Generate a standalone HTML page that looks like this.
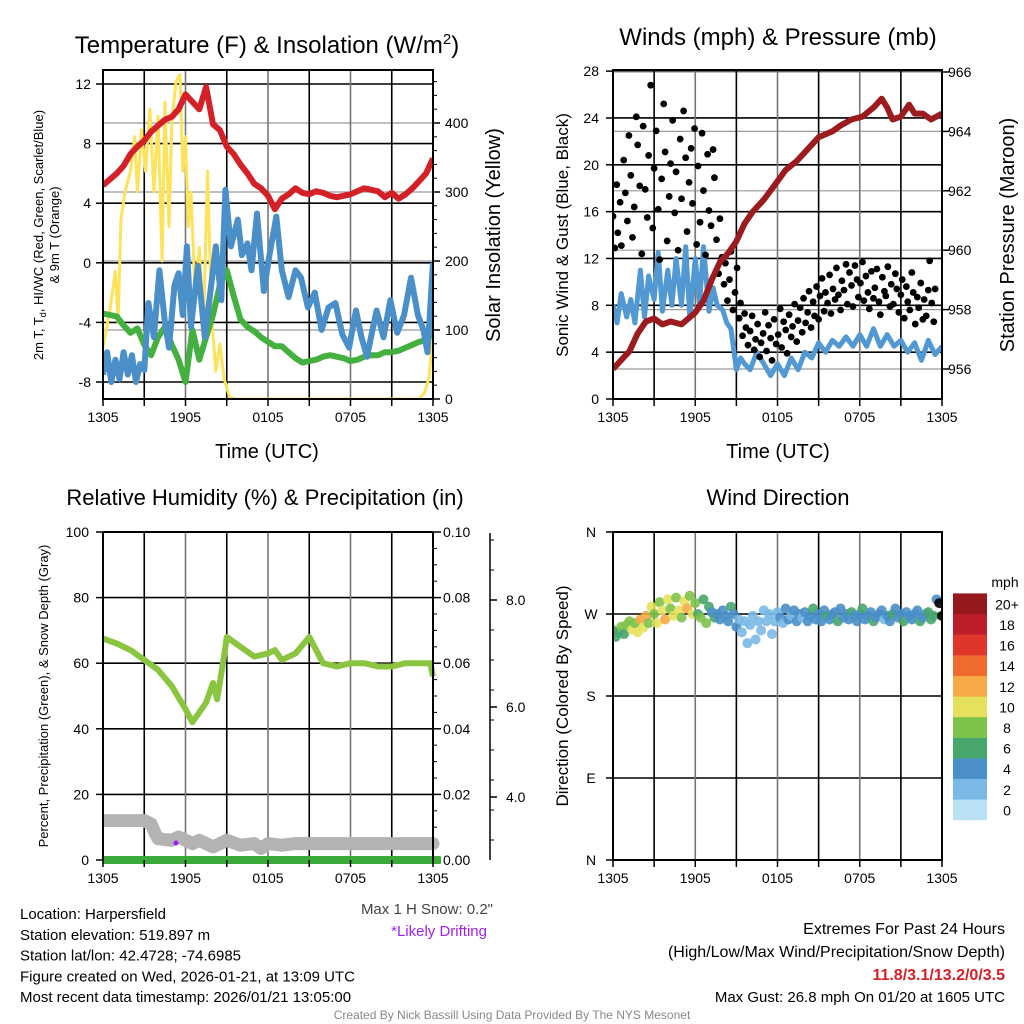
<!DOCTYPE html>
<html><head><meta charset="utf-8"><style>
body{margin:0;background:#fff}
svg{display:block;font-family:"Liberation Sans",Arial,sans-serif}
</style></head><body>
<svg id="s" width="1024" height="1024" viewBox="0 0 1024 1024">
<g id="g"></g>
</svg>
<script>
// ---------- DATA ----------
const xTickLabels=["1305","1905","0105","0705","1305"];
// Panel 1: temperature
const tempTimes=[0,.5,1,1.5,2,2.5,3,3.5,4,4.5,5,5.5,6,6.5,7,7.5,8,8.5,9,9.5,10,10.5,11,11.5,12,12.5,13,13.5,14,14.5,15,15.5,16,16.5,17,17.5,18,18.5,19,19.5,20,20.5,21,21.5,22,22.5,23,23.5,24];
const tempVals=[5.2,5.6,6.0,6.5,7.3,7.8,8.2,8.8,9.2,9.6,9.8,10.3,11.3,10.8,10.3,11.8,9.3,8.9,7.8,7.3,6.6,6.0,5.3,5.0,4.5,3.6,4.3,4.6,5.0,4.7,4.6,4.8,4.7,4.5,4.4,4.5,4.6,4.8,5.0,4.9,4.8,4.4,4.7,4.3,4.6,5.0,5.5,6.0,7.0];
const greenVals=[-3.4,-3.5,-3.6,-4.2,-4.7,-4.4,-5.5,-6.2,-5.0,-4.3,-5.5,-6.5,-8.0,-4.5,-6.5,-5.0,-3.5,-1.5,-0.5,-2.2,-3.8,-4.3,-4.6,-5.0,-5.3,-5.6,-5.6,-6.0,-6.4,-6.7,-6.6,-6.5,-6.3,-6.2,-6.3,-6.4,-6.6,-6.5,-6.3,-6.2,-6.2,-6.0,-6.0,-5.9,-5.7,-5.5,-5.3,-5.2,-4.7];
const wcTimes=[0,0.3,0.6,0.9,1.2,1.5,1.8,2.1,2.4,2.7,3.0,3.3,3.7,4.1,4.5,4.8,5.2,5.5,5.8,6.1,6.4,6.9,7.4,7.8,8.2,8.6,8.9,9.3,9.8,10.1,10.5,10.8,11.2,11.7,12.1,12.6,13.0,13.5,14.0,14.4,14.9,15.4,15.9,16.4,16.9,17.4,17.9,18.4,18.8,19.2,19.6,19.9,20.4,20.9,21.4,21.9,22.4,22.9,23.3,23.6,24];
const wcVals=[-7.5,-6,-8,-6.5,-7.8,-6,-7.5,-6.2,-8,-6.8,-7.2,-2.7,-5,-0.5,-4,-5.7,-1.5,-0.7,-3.5,1.1,-4.3,-0.2,-5,-2,1.1,-2.5,4.9,1.1,2.9,0.5,1.3,-0.5,3.3,-1.9,0.5,3.1,-0.5,-2.3,-0.5,-1,-3,-2,-4.5,-3,-2.7,-4.8,-5.7,-3.2,-5,-6.3,-4.5,-3.2,-5,-2.5,-4.7,-3.5,-1,-3.5,-4.5,-6,0];
const solarTimes=[0,0.5,0.9,1.1,1.3,1.6,2.0,2.3,2.5,2.8,3.1,3.4,3.7,4.0,4.3,4.5,4.8,5.0,5.3,5.6,5.8,6.0,6.2,6.4,6.7,7.0,7.3,7.6,7.9,8.2,8.5,8.8,9.2,9.6,23.0,23.4,23.7,24];
const solarVals=[75,130,185,110,260,300,330,380,300,390,330,420,300,410,200,430,250,400,460,470,330,380,250,300,150,220,100,330,120,40,80,30,3,0,0,10,30,90];
const tempTicks=[12,8,4,0,-4,-8];
const solarTicks=[0,100,200,300,400];
// Panel 2: winds
const windTimes=[0,0.3,0.6,1,1.3,1.6,2,2.3,2.6,3,3.3,3.6,4,4.3,4.6,5,5.3,5.6,6,6.3,6.6,7,7.3,7.6,8,8.3,8.6,9,9.3,9.6,10,10.5,11,11.5,12,12.5,13,13.5,14,14.5,15,15.5,16,16.5,17,17.5,18,18.5,19,19.5,20,20.5,21,21.5,22,22.5,23,23.5,24];
const windVals=[8,6.5,9,7,8.5,6.5,11,7,10.5,8.5,12.5,7.5,11,8,12,8,13,7,12,8,13,7.5,9.5,8,7.6,6.5,6,2.5,3.5,3,2.5,4,3,2,3,2,3.5,2.5,4,3.5,4.8,4,5,4.5,5.3,4.5,5.5,4.5,6,4.5,5.5,4.5,5,4,4.8,3.3,5,3.8,4.5];
const gustTimes=[0,0.13,0.27,0.35,0.52,0.61,0.78,0.9,1.05,1.16,1.3,1.42,1.55,1.7,1.8,1.95,2.1,2.2,2.35,2.5,2.6,2.75,2.9,3.0,3.15,3.3,3.4,3.55,3.7,3.8,3.95,4.1,4.2,4.35,4.5,4.6,4.75,4.9,5.0,5.15,5.3,5.4,5.55,5.7,5.8,5.95,6.1,6.2,6.35,6.5,6.6,6.75,6.9,7.0,7.15,7.3,7.4,7.55,7.7,7.8,7.95,8.1,8.2,8.35,8.5,8.6,8.75,8.9,9.05,9.2,9.3,9.45,9.6,9.7,9.85,10.0,10.15,10.3,10.4,10.55,10.7,10.8,10.95,11.1,11.2,11.35,11.5,11.6,11.75,11.9,12.05,12.2,12.3,12.45,12.6,12.7,12.85,13.0,13.1,13.25,13.4,13.5,13.65,13.8,13.9,14.05,14.2,14.3,14.45,14.6,14.7,14.85,15.0,15.1,15.25,15.4,15.5,15.65,15.8,15.9,16.05,16.2,16.3,16.45,16.6,16.7,16.85,17.0,17.1,17.25,17.4,17.5,17.65,17.8,17.9,18.05,18.2,18.3,18.45,18.6,18.7,18.85,19.0,19.1,19.25,19.4,19.5,19.65,19.8,19.9,20.05,20.2,20.3,20.45,20.6,20.7,20.85,21.0,21.1,21.25,21.4,21.5,21.65,21.8,21.9,22.05,22.2,22.3,22.45,22.6,22.7,22.85,23.0,23.1,23.25,23.4,23.5,23.65,23.8,23.9,24];
const gustVals=[15.6,12.9,18.3,14.2,16.8,13.1,20.4,17.6,15.2,22.5,19.1,13.8,16.4,24.1,21.7,18.2,12.4,23.3,17.9,15.5,20.8,26.8,14.6,19.7,22.9,16.2,11.9,18.8,25.2,21.1,13.5,17.3,20.1,23.8,15.9,19.4,12.7,22.2,17.1,24.6,20.6,14.3,18.5,21.4,16.7,23.1,13.2,19.9,15.1,22.7,17.8,12.3,20.9,16.1,14.8,21.3,18.9,13.6,10.7,15.4,12.1,9.8,11.6,8.4,10.2,12.6,7.6,9.1,11.2,6.9,8.2,5.4,7.3,6.1,4.6,5.8,7.1,4.2,5.1,6.4,3.6,4.8,5.6,7.4,4.1,6.3,5.2,3.3,6.8,4.7,5.5,7.7,4.4,6.6,5.9,3.9,7.2,5.3,6.2,8.1,4.9,6.7,7.8,5.7,8.6,6.5,7.4,9.2,6.1,8.3,7.1,9.6,6.8,8.8,10.3,7.5,9.1,8.2,10.6,7.3,9.4,8.5,11.2,8.9,7.6,10.1,9.3,11.5,8.1,10.8,9.7,7.9,11.4,10.2,8.7,9.9,11.7,8.4,10.5,9.1,7.7,10.9,8.6,9.5,11.1,8.3,7.2,10.4,9.2,8.8,11.3,7.9,9.8,8.1,10.7,9.4,7.4,8.9,10.2,6.9,9.6,8.3,7.6,10.8,9.1,6.4,8.7,7.8,9.9,6.8,8.5,7.1,9.3,11.8,8.2,6.6,9.4];
const pressTimes=[0,0.6,1.2,1.8,2.4,3,3.6,4.2,5,5.5,6,6.6,7.2,7.8,8.4,9,9.6,10.2,11,11.8,12.6,13.4,14.2,15,16,16.6,17.4,18.2,19,19.6,20,20.4,21,21.6,22,22.6,23.2,24];
const pressVals=[956,956.3,956.6,957.2,957.6,957.7,957.5,957.6,957.5,957.7,957.9,958.3,959,959.6,959.9,960.3,960.9,961.3,961.7,962.2,962.7,963,963.4,963.8,964,964.2,964.4,964.5,964.8,965.1,964.8,964.4,964.5,964.9,964.6,964.6,964.4,964.6];
const windTicks=[0,4,8,12,16,20,24,28];
const pressTicks=[956,958,960,962,964,966];
// Panel 3: humidity
const rhTimes=[0,1,2,3,4,5,6,6.5,7,7.5,8,8.3,8.8,9,10,11,12,12.5,13,14,15,16,17,18,19,20,21,22,23,23.8,24];
const rhVals=[67.5,66,64,61,58,53,46,42,45,48,54,49,62,68,65,62,63,64,61,63,68,60,59,60,60,59,59,60,60,60,56];
const snowTimes=[0,1,2,3,3.5,3.8,4,5,5.5,6,6.5,7,7.5,8,8.5,9,10,11,11.5,12,13,14,15,16,17,18,19,20,21,22,23,24];
const snowVals=[12,12,12,12,11,8,6.5,6,7,6,5,6,5,4,5,6,4.5,5,3.5,5,4.5,5,5,5,5,5,5,5,5,5,5,5];
const rhTicks=[0,20,40,60,80,100];
const precipTicks=["0.00","0.02","0.04","0.06","0.08","0.10"];
const snowAxisLabels=["4.0","6.0","8.0"];
// Panel 4: direction
const dirTimes=[0,0.2,0.4,0.6,0.8,1,1.2,1.4,1.6,1.8,2,2.2,2.4,2.6,2.8,3,3.2,3.4,3.6,3.8,4,4.2,4.4,4.6,4.8,5,5.2,5.4,5.6,5.8,6,6.2,6.4,6.6,6.8,7,7.2,7.4,7.6,7.8,8,8.2,8.4,8.6,8.8,9,9.2,9.4,9.6,9.8,10,10.2,10.4,10.6,10.8,11,11.2,11.4,11.6,11.8,12,12.2,12.4,12.6,12.8,13,13.2,13.4,13.6,13.8,14,14.2,14.4,14.6,14.8,15,15.2,15.4,15.6,15.8,16,16.2,16.4,16.6,16.8,17,17.2,17.4,17.6,17.8,18,18.2,18.4,18.6,18.8,19,19.2,19.4,19.6,19.8,20,20.2,20.4,20.6,20.8,21,21.2,21.4,21.6,21.8,22,22.2,22.4,22.6,22.8,23,23.2,23.4,23.6,23.8,24];
const dirVals=[252,245,250,256,248,258,262,253,260,250,264,255,268,260,278,270,260,283,274,264,286,276,268,288,274,266,284,276,290,270,282,270,266,286,260,278,272,266,270,264,274,268,262,278,270,256,264,250,262,238,258,268,242,262,252,274,262,270,248,262,272,266,260,276,264,268,274,262,270,266,272,262,268,276,264,270,262,274,268,264,270,272,262,276,266,270,264,272,268,262,270,276,264,268,272,262,266,270,274,264,268,262,270,276,266,270,262,272,268,264,270,274,262,266,270,272,264,268,286,282,268];
const dirSpeeds=[6,7,6,8,7,9,8,10,9,11,12,10,12,9,11,8,10,9,11,12,10,8,11,9,10,8,10,12,9,11,8,7,9,6,8,6,5,6,5,5,4,5,4,6,5,4,3,3,2.5,3,2.5,3,2,3.5,2.5,3,2.5,3,2.5,3,3,4,3,4,4.5,3,4,5,4,3.5,4,5,4,6,4,4.5,5,4,6,4.5,5,4,6,4.5,5,4,5,6,4,5,4.5,6,5,4,5,6,4,5,4.5,3,5,4,6,5,4,5,6,4.5,5,4,5,4.5,6,4,5,6,6,7,5];
const dirTicks=["N","E","S","W","N"];
const speedBins=["0","2","4","6","8","10","12","14","16","18","20+"];
const speedColors=["#b9e2f7","#7ab9e5","#4a8fc8","#46a66b","#7dc24a","#e6e15c","#f6a947","#ef6b2c","#e0352b","#bd1e29","#95181d"];

// ---------- DRAW ----------
const NS="http://www.w3.org/2000/svg";
const G=document.getElementById('g');
function el(tag,attrs,parent){const e=document.createElementNS(NS,tag);for(const k in attrs)e.setAttribute(k,attrs[k]);(parent||G).appendChild(e);return e;}
function txt(x,y,s,size,anchor,extra){const e=el('text',Object.assign({x:x,y:y,'font-size':size,'text-anchor':anchor||'middle',fill:'#000'},extra||{}));e.textContent=s;return e;}
function linePath(ts,vs,sx,sy){return ts.map((t,i)=>(i?'L':'M')+sx(t).toFixed(1)+','+sy(vs[i]).toFixed(1)).join(' ');}

function frame(x0,x1,y0,y1,name){
  const r=el('rect',{x:x0,y:y0,width:x1-x0,height:y1-y0,fill:'none',stroke:'#000','stroke-width':2});
  
  
}
function vgrid(x0,x1,y0,y1){
  for(let i=1;i<8;i++){const x=x0+(x1-x0)*i/8;
    el('line',{x1:x,x2:x,y1:y0,y2:y1,stroke:i%2?'#000':'#777','stroke-width':1.6});}
}
function xticks(x0,x1,y1,name){
  const g=el('g',{});
  
  
  for(let i=0;i<=8;i++){const x=x0+(x1-x0)*i/8;el('line',{x1:x,x2:x,y1:y1,y2:y1+7,stroke:'#000','stroke-width':1.5},g);}
  xTickLabels.forEach((s,i)=>{txt(x0+(x1-x0)*i/4,y1+23,s,14,'middle');});
}

// ===== Panel 1 =====
(function(){
  const x0=103,x1=433,y0=70,y1=399;
  const sx=t=>x0+(x1-x0)*t/24;
  const sy=v=>84-(v-12)*14.9;
  const sr=v=>399-v*0.69;
  const t=txt(267,53,'Temperature (F) & Insolation (W/m',24);
  const sup=el('tspan',{dy:-9,'font-size':15},t);sup.textContent='2';
  const cl=el('tspan',{dy:9},t);cl.textContent=')';
  
  tempTicks.forEach(v=>{el('line',{x1:x0,x2:x1,y1:sy(v),y2:sy(v),stroke:'#000','stroke-width':1.6});
    el('line',{x1:x0-7,x2:x0,y1:sy(v),y2:sy(v),stroke:'#000','stroke-width':1.5});
    txt(x0-12,sy(v)+5,String(v),14,'end');});
  solarTicks.forEach(v=>{el('line',{x1:x0,x2:x1,y1:sr(v),y2:sr(v),stroke:'#999','stroke-width':1.2});
    el('line',{x1:x1,x2:x1+7,y1:sr(v),y2:sr(v),stroke:'#000','stroke-width':1.5});
    txt(x1+12,sr(v)+5,String(v),14,'start');});
  for(let v=0;v<=460;v+=20){el('line',{x1:x1,x2:x1+4,y1:sr(v),y2:sr(v),stroke:'#000','stroke-width':1});}
  vgrid(x0,x1,y0,y1);
  const clip=el('clipPath',{id:'c1'});el('rect',{x:x0,y:y0,width:x1-x0,height:y1-y0},clip);
  const gg=el('g',{'clip-path':'url(#c1)'});
  let p=el('path',{d:linePath(solarTimes,solarVals,sx,sr),fill:'none',stroke:'#fde25a','stroke-width':3,'stroke-linejoin':'round'},gg);
  
  p=el('path',{d:linePath(tempTimes,greenVals,sx,sy),fill:'none',stroke:'#44b040','stroke-width':6,'stroke-linejoin':'round'},gg);
  
  p=el('path',{d:linePath(wcTimes,wcVals,sx,sy),fill:'none',stroke:'#4a8fc8','stroke-width':6,'stroke-linejoin':'round'},gg);
  
  p=el('path',{d:linePath(tempTimes,tempVals,sx,sy),fill:'none',stroke:'#d42027','stroke-width':6,'stroke-linejoin':'round'},gg);
  
  frame(x0,x1,y0,y1,'temperature-plot-frame');
  xticks(x0,x1,y1,'temperature-x-axis');
  const xl=txt(267,458,'Time (UTC)',20);
  const yl=el('text',{transform:'translate(43,235) rotate(-90)','font-size':13,'text-anchor':'middle'});
  
  yl.innerHTML='2m T, T<tspan font-size="9" dy="3">d</tspan><tspan dy="-3">, HI/WC (Red, Green, Scarlet/Blue)</tspan>';
  const yl2=txt(0,0,'& 9m T (Orange)',13,'middle',{transform:'translate(59,235) rotate(-90)'});
  
  const yr=txt(0,0,'Solar Insolation (Yellow)',20,'middle',{transform:'translate(500,235) rotate(-90)'});
  
})();

// ===== Panel 2 =====
(function(){
  const x0=613,x1=942,y0=70,y1=399;
  const sx=t=>x0+(x1-x0)*t/24;
  const sy=v=>399-v*11.71;
  const sp=v=>369-(v-956)*29.7;
  const t=txt(778,45,'Winds (mph) & Pressure (mb)',24);
  windTicks.forEach(v=>{el('line',{x1:x0,x2:x1,y1:sy(v),y2:sy(v),stroke:'#000','stroke-width':1.6});
    el('line',{x1:x0-7,x2:x0,y1:sy(v),y2:sy(v),stroke:'#000','stroke-width':1.5});
    txt(x0-14,sy(v)+5,String(v),14,'end');});
  pressTicks.forEach(v=>{el('line',{x1:x0,x2:x1,y1:sp(v),y2:sp(v),stroke:'#999','stroke-width':1.2});
    el('line',{x1:x1,x2:x1+7,y1:sp(v),y2:sp(v),stroke:'#000','stroke-width':1.5});
    txt(x1+6,sp(v)+5,String(v),14,'start');});
  vgrid(x0,x1,y0,y1);
  const clip=el('clipPath',{id:'c2'});el('rect',{x:x0,y:y0,width:x1-x0,height:y1-y0},clip);
  const gg=el('g',{'clip-path':'url(#c2)'});
  let p=el('path',{d:linePath(windTimes,windVals,sx,sy),fill:'none',stroke:'#5299d3','stroke-width':5,'stroke-linejoin':'round'},gg);
  
  gustVals.forEach((v,i)=>{const c=el('circle',{cx:sx(gustTimes[i]),cy:sy(v),r:3.4,fill:'#000'},gg);
    
    });
  p=el('path',{d:linePath(pressTimes,pressVals,sx,sp),fill:'none',stroke:'#9b1b1e','stroke-width':6,'stroke-linejoin':'round'},gg);
  
  frame(x0,x1,y0,y1,'winds-plot-frame');
  xticks(x0,x1,y1,'winds-x-axis');
  txt(778,458,'Time (UTC)',20);
  txt(0,0,'Sonic Wind & Gust (Blue, Black)',17,'middle',{transform:'translate(568,235) rotate(-90)'});
  txt(0,0,'Station Pressure (Maroon)',20,'middle',{transform:'translate(1014,235) rotate(-90)'});
})();

// ===== Panel 3 =====
(function(){
  const x0=103,x1=433,y0=532,y1=860;
  const sx=t=>x0+(x1-x0)*t/24;
  const sy=v=>860-v*3.28;
  const t=txt(265,505,'Relative Humidity (%) & Precipitation (in)',22);
  rhTicks.forEach((v,i)=>{el('line',{x1:x0,x2:x1,y1:sy(v),y2:sy(v),stroke:'#000','stroke-width':1.6});
    el('line',{x1:x0-7,x2:x0,y1:sy(v),y2:sy(v),stroke:'#000','stroke-width':1.5});
    txt(x0-14,sy(v)+5,String(v),14,'end');
    el('line',{x1:x1,x2:x1+8,y1:sy(v),y2:sy(v),stroke:'#000','stroke-width':1.5});
    txt(x1+10,sy(v)+5,precipTicks[i],14,'start');});
  for(let v=0;v<=100;v+=5){el('line',{x1:x1,x2:x1+4,y1:sy(v),y2:sy(v),stroke:'#000','stroke-width':1});}
  vgrid(x0,x1,y0,y1);
  const clip=el('clipPath',{id:'c3'});el('rect',{x:x0,y:y0-2,width:x1-x0+8,height:y1-y0+12},clip);
  const gg=el('g',{'clip-path':'url(#c3)'});
  let p=el('path',{d:linePath(snowTimes,snowVals,sx,sy),fill:'none',stroke:'#b3b3b3','stroke-width':13,'stroke-linejoin':'round','stroke-linecap':'round'},gg);
  
  p=el('path',{d:linePath(rhTimes,rhVals,sx,sy),fill:'none',stroke:'#8bc53f','stroke-width':6,'stroke-linejoin':'round'},gg);
  
  p=el('line',{x1:x0,x2:x1+6,y1:sy(0),y2:sy(0),stroke:'#3aab3a','stroke-width':8,'stroke-linecap':'round'},gg);
  
  el('circle',{cx:176,cy:843,r:2.5,fill:'#a020f0'});
  el('line',{x1:x0,x2:x0,y1:y0,y2:y1,stroke:'#000','stroke-width':2});
  el('line',{x1:x1,x2:x1,y1:y0,y2:y1,stroke:'#000','stroke-width':2});
  el('line',{x1:x0,x2:x1,y1:y0,y2:y0,stroke:'#000','stroke-width':2});
  xticks(x0,x1,y1,'humidity-x-axis');
  const ax=490;
  el('line',{x1:ax,x2:ax,y1:533,y2:860,stroke:'#000','stroke-width':1.5});
  const snowTickY=[797,707,600];
  for(let y=540;y<=855;y+=30){el('line',{x1:ax,x2:ax+4,y1:y,y2:y,stroke:'#000','stroke-width':1});}
  snowAxisLabels.forEach((s,i)=>{el('line',{x1:ax,x2:ax+7,y1:snowTickY[i],y2:snowTickY[i],stroke:'#000','stroke-width':1.5});
    txt(ax+16,snowTickY[i]+5,s,14,'start');});
  txt(0,0,'Percent, Precipitation (Green), & Snow Depth (Gray)',13,'middle',{transform:'translate(48,696) rotate(-90)'});
})();

// ===== Panel 4 =====
(function(){
  const x0=613,x1=942,y0=532,y1=860;
  const sx=t=>x0+(x1-x0)*t/24;
  const sy=d=>860-d*328/360;
  const binColor=s=>speedColors[Math.min(10,Math.floor(s/2))];
  const t=txt(778,505,'Wind Direction',22);
  dirTicks.forEach((s,i)=>{const y=sy(i*90);
    el('line',{x1:x0,x2:x1,y1:y,y2:y,stroke:'#000','stroke-width':1.6});
    el('line',{x1:x0-7,x2:x0,y1:y,y2:y,stroke:'#000','stroke-width':1.5});
    txt(x0-22,y+5,s,14,'middle');});
  vgrid(x0,x1,y0,y1);
  const clip=el('clipPath',{id:'c4'});el('rect',{x:x0,y:y0,width:x1-x0,height:y1-y0},clip);
  const gg=el('g',{'clip-path':'url(#c4)'});
  dirVals.forEach((d,i)=>{const c=el('circle',{cx:sx(dirTimes[i]),cy:sy(d),r:5,fill:binColor(dirSpeeds[i]),'fill-opacity':0.9},gg);
    
    });
  frame(x0,x1,y0,y1,'wind-direction-plot-frame');
  xticks(x0,x1,y1,'wind-direction-x-axis');
  txt(0,0,'Direction (Colored By Speed)',17,'middle',{transform:'translate(568,696) rotate(-90)'});
  const cb=el('g',{});
  
  
  txt(1005,587,'mph',14,'middle',{});
  speedBins.forEach((s,i)=>{const y=820-(i+1)*20.6;
    el('rect',{x:953,y:y,width:34,height:20.8,fill:speedColors[i]},cb);
    txt(1007,y+16,s,14,'middle');});
})();

// ===== Footer texts =====
const info=["Location: Harpersfield","Station elevation: 519.897 m","Station lat/lon: 42.4728; -74.6985","Figure created on Wed, 2026-01-21, at 13:09 UTC","Most recent data timestamp: 2026/01/21 13:05:00"];
info.forEach((s,i)=>{const e=txt(20,919+i*20.8,s,15,'start');});
txt(493,914,'Max 1 H Snow: 0.2"',15,'end',{fill:'#444'});
txt(487,936,'*Likely Drifting',15,'end',{fill:'#a020f0'});
txt(1005,934,'Extremes For Past 24 Hours',16,'end');
txt(1005,957,'(High/Low/Max Wind/Precipitation/Snow Depth)',16,'end');
txt(1005,980,'11.8/3.1/13.2/0/3.5',16,'end',{fill:'#d42027','font-weight':'bold'});
txt(1005,1002,'Max Gust: 26.8 mph On 01/20 at 1605 UTC',15,'end');
txt(512,1019,'Created By Nick Bassill Using Data Provided By The NYS Mesonet',12,'middle',{fill:'#888'});
</script>
</body></html>
